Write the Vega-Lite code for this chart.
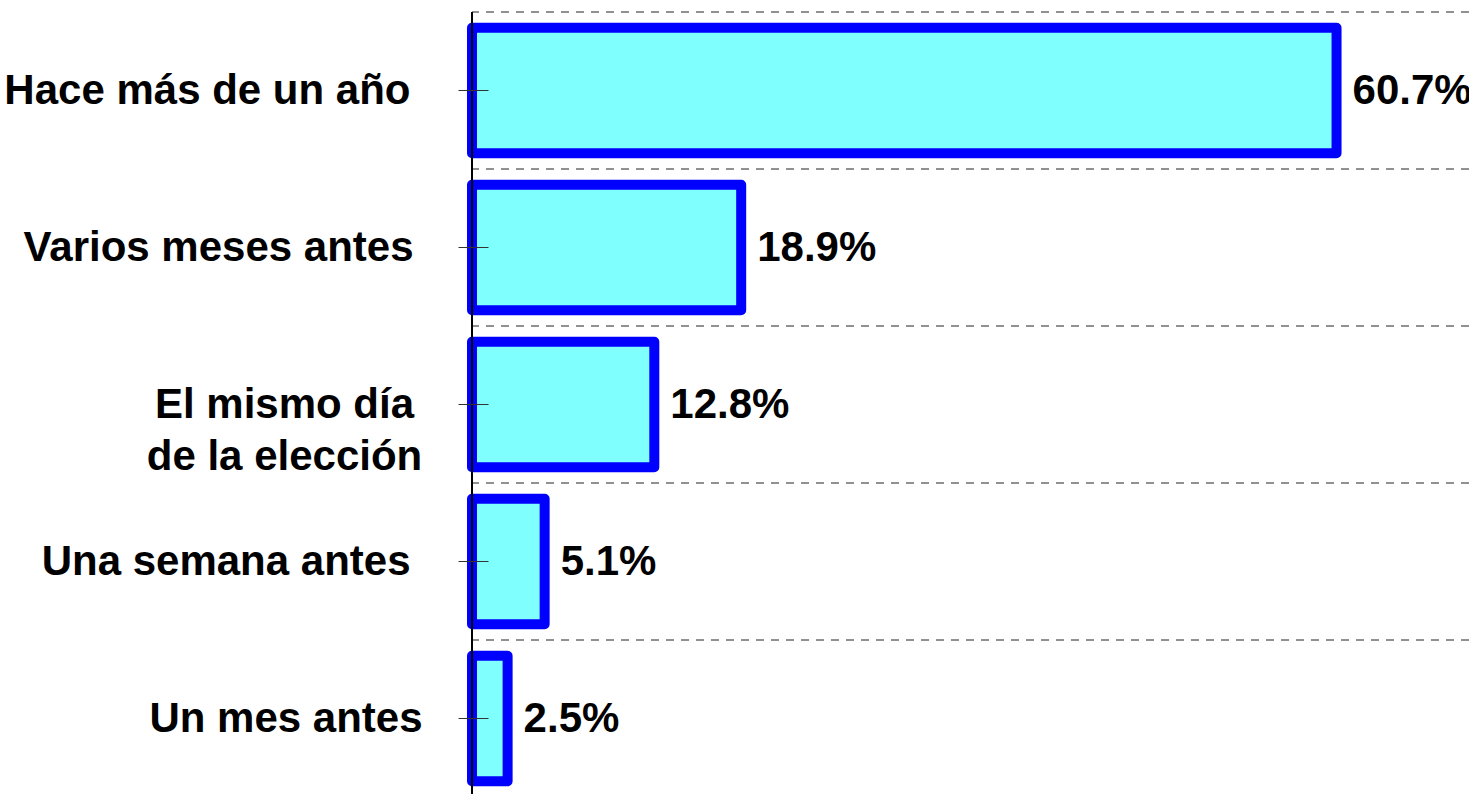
{
  "$schema": "https://vega.github.io/schema/vega-lite/v6.json",
  "autosize": {"type": "none"},
  "padding": {"left": 472, "top": 12, "right": 0, "bottom": 0},
  "width": 997,
  "height": 785,
  "background": "white",
  "config": {"view": {"stroke": null}},
  "data": {"values": [
    {"cat": "Hace más de un año", "pct": 60.7, "label": "60.7%"},
    {"cat": "Varios meses antes", "pct": 18.9, "label": "18.9%"},
    {"cat": "El mismo día de la elección", "pct": 12.8, "label": "12.8%"},
    {"cat": "Una semana antes", "pct": 5.1, "label": "5.1%"},
    {"cat": "Un mes antes", "pct": 2.5, "label": "2.5%"}
  ]},
  "layer": [
    {
      "mark": {"type": "rule", "color": "#222222", "strokeDash": [8, 7], "strokeWidth": 1},
      "encoding": {
        "y": {"field": "cat", "type": "nominal", "sort": null, "bandPosition": 0, "scale": {"paddingInner": 0, "paddingOuter": 0}}
      }
    },
    {
      "mark": {"type": "bar", "fill": "#80FFFF", "stroke": "#0000FF", "strokeWidth": 10, "strokeJoin": "round", "height": {"band": 0.8}},
      "encoding": {
        "y": {
          "field": "cat", "type": "nominal", "sort": null,
          "scale": {"paddingInner": 0, "paddingOuter": 0},
          "axis": {
            "title": null, "domain": false, "grid": false, "offset": -16,
            "tickSize": 30, "tickColor": "#333333", "tickWidth": 1,
            "labelFont": "Liberation Sans", "labelFontWeight": "bold", "labelFontSize": 42,
            "labelColor": "black", "labelLimit": 0, "labelLineHeight": 52,
            "labelOverlap": false, "labelBound": false, "zindex": 1,
            "labelExpr": "datum.value === 'El mismo día de la elección' ? ['El mismo día', 'de la elección'] : datum.value",
            "labelAlign": {"condition": {"test": "datum.value === 'El mismo día de la elección'", "value": "center"}, "value": "right"},
            "labelPadding": {"condition": [
              {"test": "datum.value === 'El mismo día de la elección'", "value": 174},
              {"test": "datum.value === 'Un mes antes'", "value": 36},
              {"test": "datum.value === 'Varios meses antes'", "value": 45}
            ], "value": 48}
          }
        },
        "x": {"field": "pct", "type": "quantitative", "scale": {"domain": [0, 70], "nice": false}, "axis": null}
      }
    },
    {
      "mark": {"type": "text", "align": "left", "baseline": "middle", "dx": 16, "font": "Liberation Sans", "fontWeight": "bold", "fontSize": 42, "color": "black"},
      "encoding": {
        "y": {"field": "cat", "type": "nominal", "sort": null},
        "x": {"field": "pct", "type": "quantitative"},
        "text": {"field": "label", "type": "nominal"}
      }
    },
    {
      "mark": {"type": "rule", "color": "black", "strokeWidth": 2},
      "encoding": {"x": {"datum": 0, "type": "quantitative"}}
    }
  ]
}
